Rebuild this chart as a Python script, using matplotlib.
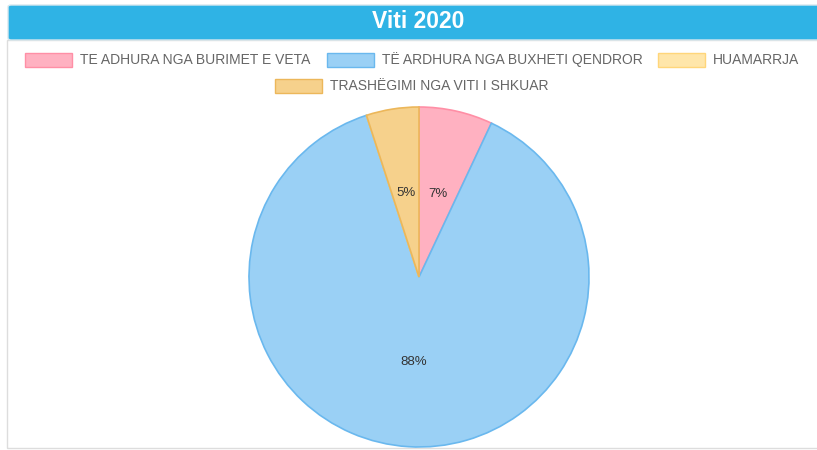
import matplotlib.pyplot as plt
from matplotlib.patches import Rectangle, FancyBboxPatch

# data
title = "Viti 2020"
categories = [
    "TE ADHURA NGA BURIMET E VETA",
    "TË ARDHURA NGA BUXHETI QENDROR",
    "HUAMARRJA",
    "TRASHËGIMI NGA VITI I SHKUAR",
]
shares = [7, 88, 0, 5]
fill_colors = ["#ffb1c1", "#9ad0f5", "#ffe6aa", "#f6d18c"]
edge_colors = ["#ff8fa6", "#6ab8ee", "#ffd67a", "#ecb75a"]

W, H = 817, 450
fig = plt.figure(figsize=(W / 100, H / 100), dpi=100)
fig.patch.set_facecolor("white")


def fx(px):
    return px / W


def fy(py):
    return 1 - py / H


font = ["Liberation Sans", "DejaVu Sans"]

# panel border
fig.patches.append(Rectangle((fx(7), fy(448)), fx(830) - fx(7), fy(40) - fy(448),
                             transform=fig.transFigure, facecolor="none",
                             edgecolor="#dddddd", linewidth=1, zorder=-1))
# header bar
fig.patches.append(FancyBboxPatch((fx(8), fy(40)), fx(830) - fx(8), fy(5) - fy(40),
                                  boxstyle="round,pad=0,rounding_size=0.004",
                                  transform=fig.transFigure, facecolor="#2fb3e5",
                                  edgecolor="#d8e8ee", linewidth=1, zorder=1))
fig.text(fx(418), fy(22), title, color="white", fontsize=16.5, fontweight="bold",
         ha="center", va="center", family=font)

# legend (manual, chart.js style)
legend_pos = [(25, 60), (327, 60), (658, 60), (275, 86)]
for (x, y), name, fc, ec in zip(legend_pos, categories, fill_colors, edge_colors):
    fig.patches.append(Rectangle((fx(x), fy(y + 7)), fx(47), 14 / H,
                                 transform=fig.transFigure, facecolor=fc,
                                 edgecolor=ec, linewidth=1))
    fig.text(fx(x + 55), fy(y), name, color="#666666", fontsize=10,
             ha="left", va="center", family=font)

# pie
cx, cy, r = 419, 277, 170
ax = fig.add_axes([fx(cx - r), fy(cy + r), fx(2 * r), 2 * r / H])
ax.set_zorder(5)
wedges, texts, autotexts = ax.pie(
    shares, colors=fill_colors, startangle=90, counterclock=False, radius=1,
    autopct=lambda p: f"{p:.0f}%" if p > 0.5 else "", pctdistance=0.5,
    wedgeprops=dict(linewidth=1.2),
    textprops=dict(color="#333333", fontsize=9.5, family=font),
)
for w, ec in zip(wedges, edge_colors):
    w.set_edgecolor(ec)
ax.set_xlim(-1, 1)
ax.set_ylim(-1, 1)
ax.set_aspect("equal")
ax.axis("off")

fig.savefig("out.png", dpi=100)
